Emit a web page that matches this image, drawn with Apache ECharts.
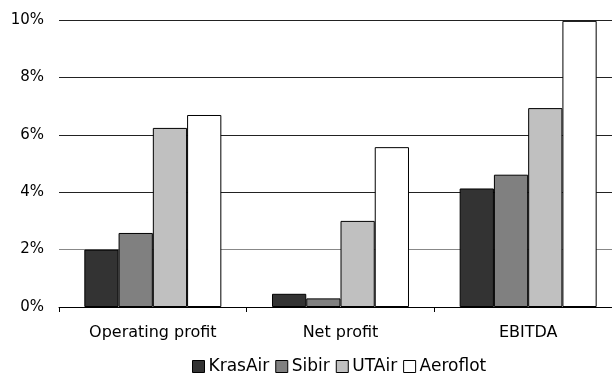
<!DOCTYPE html>
<html>
<head>
<meta charset="utf-8">
<script src="https://cdn.jsdelivr.net/npm/echarts@6/dist/echarts.min.js"></script>
<style>
html,body{margin:0;padding:0;background:#fff;}
#chart{width:612px;height:376px;}
</style>
</head>
<body>
<div id="chart"></div>
<script>
var categories = ['Operating profit', 'Net profit', 'EBITDA'];
var krasair = [2.0, 0.46, 4.13];
var sibir = [2.58, 0.30, 4.61];
var utair = [6.24, 3.0, 6.93];
var aeroflot = [6.69, 5.57, 9.97];
var yTicks = [0, 2, 4, 6, 8, 10];

var font = 'DejaVu Sans';
function bar(name, data, color) {
	return {
		name : name,
		type : 'bar',
		data : data,
		barGap : '0%',
		barCategoryGap : '27%',
		itemStyle : { color : color, borderColor : '#000', borderWidth : 1 }
	};
}
var mycharts = echarts.init(document.getElementById('chart'));
mycharts.setOption({
	animation : false,
	grid : { left : 59, width : 563, top : 20, height : 287, outerBoundsMode : 'none', containLabel : false },
	legend : {
		top : 358,
		left : 192,
		padding : 0,
		itemWidth : 12,
		itemHeight : 12,
		itemGap : 6,
		icon : 'rect',
		textStyle : { fontFamily : font, fontSize : 17, color : '#000', padding : [0, 0, 0, -1] },
		data : ['KrasAir', 'Sibir', 'UTAir', 'Aeroflot'],
		itemStyle : { borderColor : '#000', borderWidth : 1 }
	},
	xAxis : {
		type : 'category',
		data : categories,
		axisLine : { lineStyle : { color : '#000', width : 1 } },
		axisTick : { show : true, length : 5, lineStyle : { color : '#000' } },
		axisLabel : { fontFamily : font, fontSize : 16, color : '#000', margin : 18 }
	},
	yAxis : {
		type : 'value',
		min : 0,
		max : 10,
		interval : 2,
		axisLine : { show : false },
		axisTick : { show : false },
		axisLabel : {
			fontFamily : font, fontSize : 15, color : '#000', margin : 15,
			formatter : function (v) { return yTicks.indexOf(v) >= 0 ? v + '%' : ''; }
		},
		splitLine : { lineStyle : { color : ['#222', '#888', '#222', '#222', '#222', '#222'], width : 1 } }
	},
	series : [
		bar('KrasAir', krasair, '#333333'),
		bar('Sibir', sibir, '#808080'),
		bar('UTAir', utair, '#c0c0c0'),
		bar('Aeroflot', aeroflot, '#ffffff')
	]
});
</script>
</body>
</html>
